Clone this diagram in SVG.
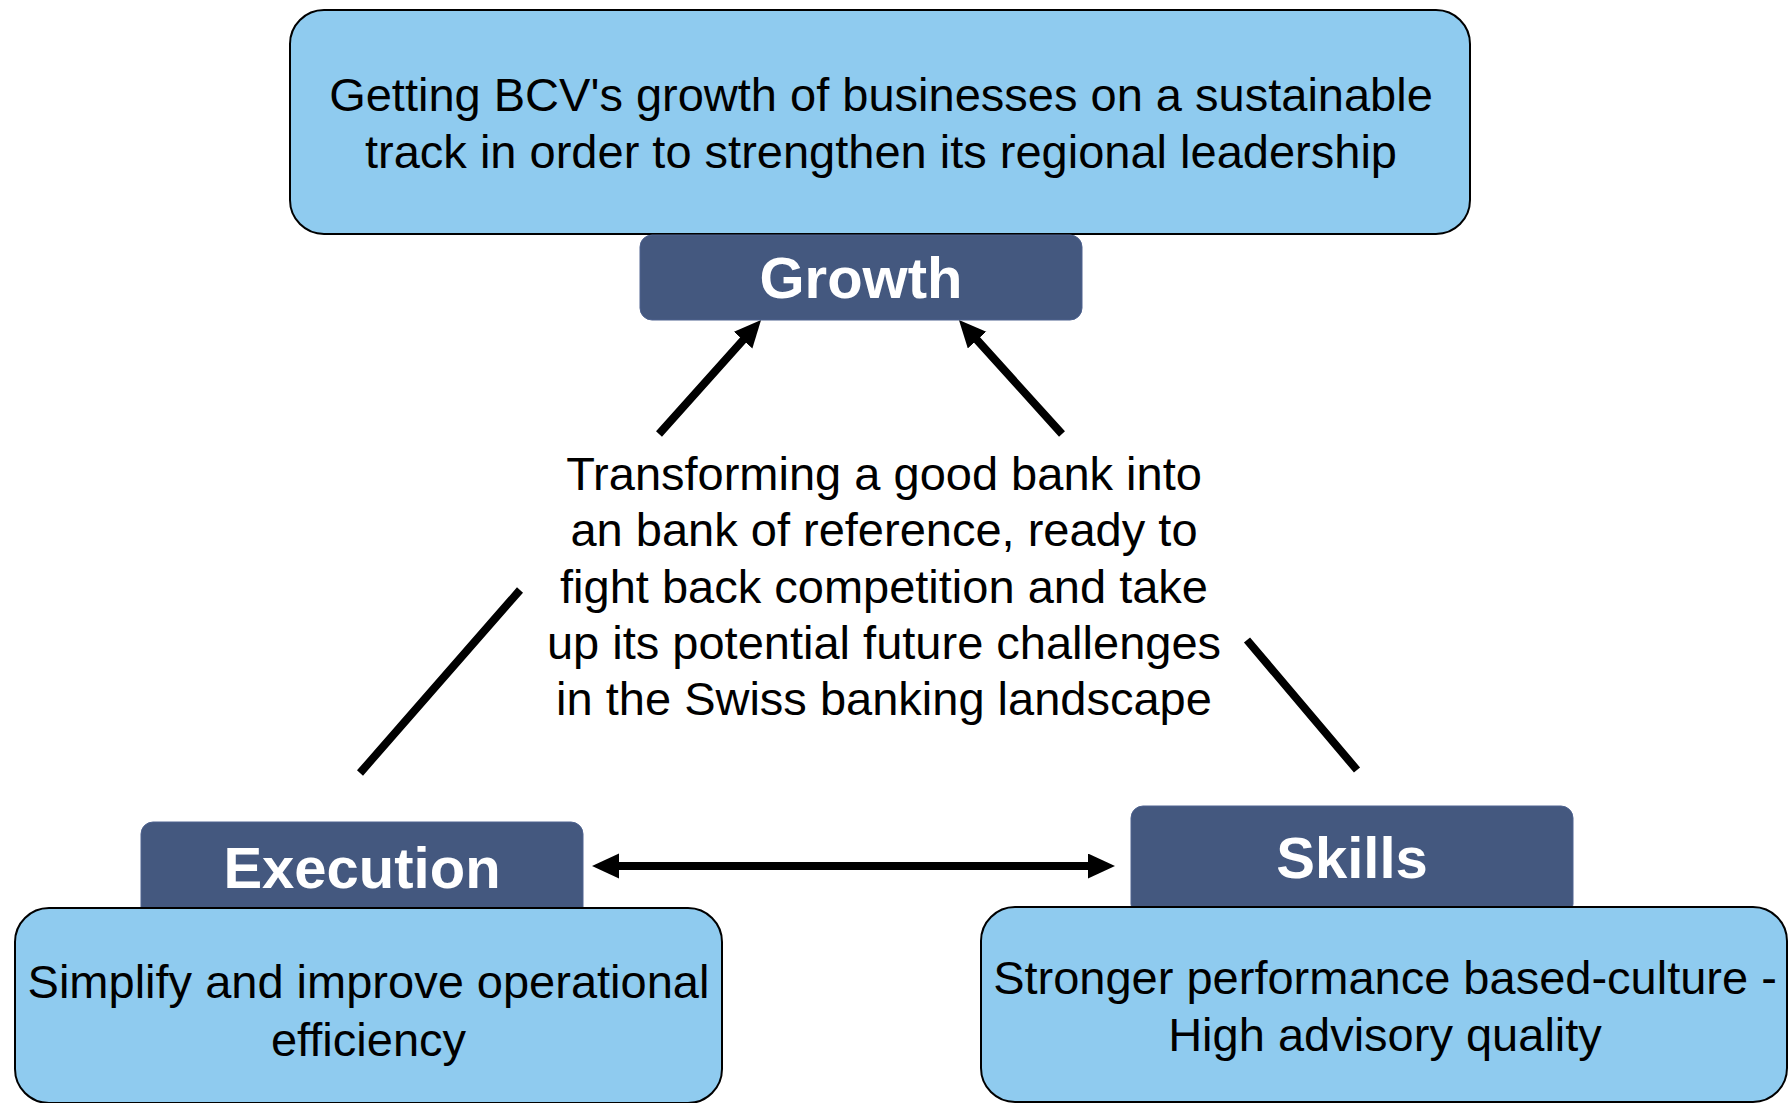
<svg xmlns="http://www.w3.org/2000/svg" width="1789" height="1103" viewBox="0 0 1789 1103">
  <style>
    .light { fill: #8FCBEF; stroke: #000; stroke-width: 2; }
    .dark { fill: #44587F; stroke: #4F6390; stroke-width: 1; }
    .body { font-family: "Liberation Sans", Arial, sans-serif; font-size: 47px; fill: #000; text-anchor: middle; }
    .label { font-family: "Liberation Sans", Arial, sans-serif; font-size: 58px; font-weight: bold; fill: #fff; text-anchor: middle; }
    .conn { fill: none; stroke: #000; stroke-width: 8; }
  </style>
  <defs>
    <marker id="arrow" markerUnits="userSpaceOnUse" markerWidth="28" markerHeight="26" refX="1" refY="12.5" orient="auto-start-reverse" viewBox="0 0 28 26">
      <path d="M0,0 L27,12.5 L0,25 z" fill="#000"/>
    </marker>
  </defs>
  <rect width="1789" height="1103" fill="#fff"/>

  <g id="connectors">
    <path class="conn" d="M360,773 L520,590 M659,434 L743.7,339.4" marker-end="url(#arrow)"/>
    <path class="conn" d="M1357,770 L1247,640 M1062,434 L976.4,339.3" marker-end="url(#arrow)"/>
    <path class="conn" d="M618,866 L1089,866" marker-start="url(#arrow)" marker-end="url(#arrow)"/>
  </g>

  <g id="growth-desc">
    <rect class="light" x="290" y="10" width="1180" height="224" rx="34" ry="34"/>
    <text class="body" x="881" y="111">Getting BCV's growth of businesses on a sustainable</text>
    <text class="body" x="881" y="168">track in order to strengthen its regional leadership</text>
  </g>

  <g id="growth">
    <rect class="dark" x="640" y="235" width="442" height="85" rx="12" ry="12"/>
    <text class="label" x="861" y="298">Growth</text>
  </g>

  <g id="center">
    <text class="body" x="884" y="490">Transforming a good bank into</text>
    <text class="body" x="884" y="546">an bank of reference, ready to</text>
    <text class="body" x="884" y="603">fight back competition and take</text>
    <text class="body" x="884" y="659">up its potential future challenges</text>
    <text class="body" x="884" y="715">in the Swiss banking landscape</text>
  </g>

  <g id="execution">
    <rect class="dark" x="141" y="822" width="442" height="100" rx="12" ry="12"/>
    <text class="label" x="362" y="888">Execution</text>
  </g>

  <g id="execution-desc">
    <rect class="light" x="15" y="908" width="707" height="195" rx="34" ry="34"/>
    <text class="body" x="368.5" y="998">Simplify and improve operational</text>
    <text class="body" x="368.5" y="1056">efficiency</text>
  </g>

  <g id="skills">
    <rect class="dark" x="1131" y="806" width="442" height="110" rx="12" ry="12"/>
    <text class="label" x="1352" y="878">Skills</text>
  </g>

  <g id="skills-desc">
    <rect class="light" x="981" y="907" width="806" height="195" rx="34" ry="34"/>
    <text class="body" x="1385" y="994">Stronger performance based-culture -</text>
    <text class="body" x="1385" y="1051">High advisory quality</text>
  </g>
</svg>
